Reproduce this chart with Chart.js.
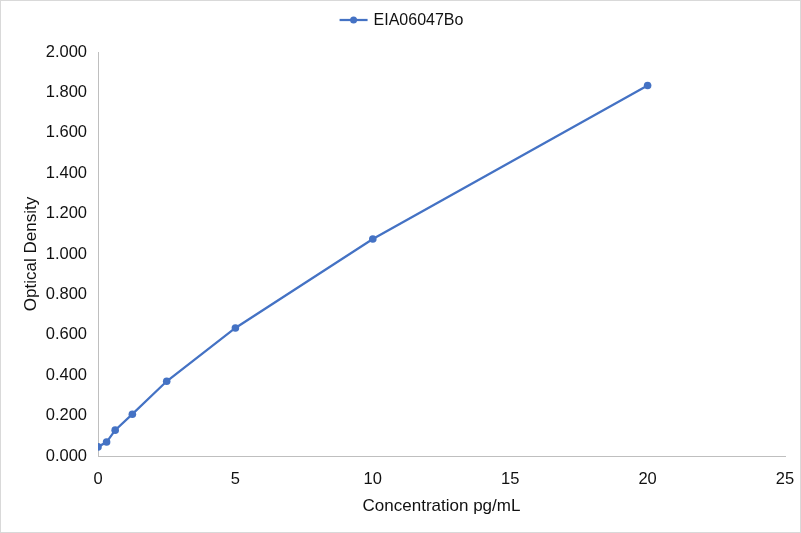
<!DOCTYPE html>
<html><head><meta charset="utf-8">
<script src="https://cdn.jsdelivr.net/npm/chart.js@4"></script>
<style>html,body{margin:0;padding:0;background:#fff}canvas{display:block}</style>
</head><body>
<canvas id="c" width="801" height="533"></canvas>
<script>
const seriesName = 'EIA06047Bo';
const concentrations = [0, 0.3125, 0.625, 1.25, 2.5, 5, 10, 20];
const odValues = [0.045, 0.069, 0.128, 0.207, 0.370, 0.634, 1.074, 1.834];
const xTitle = 'Concentration pg/mL';
const yTitle = 'Optical Density';

const FONT = 'Liberation Sans, Arial, sans-serif';
const COLOR = '#4472C4';
const TXT = '#111111';

const pts = concentrations.map((x, i) => ({x, y: odValues[i]}));

const extras = {
  id: 'extras',
  afterDraw(chart) {
    const ctx = chart.ctx;
    ctx.save();
    ctx.strokeStyle = '#d9d9d9';
    ctx.lineWidth = 1;
    ctx.strokeRect(0.5, 0.5, chart.width - 1, chart.height - 1);
    // legend
    const label = chart.data.datasets[0].label;
    ctx.font = '16px ' + FONT;
    const tw = ctx.measureText(label).width;
    const total = 28 + 6 + tw;
    const x0 = chart.width / 2 - total / 2 + 1;
    const y0 = 20;
    ctx.strokeStyle = COLOR; ctx.lineWidth = 2.25;
    ctx.beginPath(); ctx.moveTo(x0, y0); ctx.lineTo(x0 + 28, y0); ctx.stroke();
    ctx.fillStyle = COLOR;
    ctx.beginPath(); ctx.arc(x0 + 14, y0, 3.5, 0, Math.PI * 2); ctx.fill();
    ctx.fillStyle = TXT; ctx.textBaseline = 'middle'; ctx.textAlign = 'left';
    ctx.fillText(label, x0 + 34, y0 + 1);
    ctx.restore();
  }
};

new Chart(document.getElementById('c'), {
  type: 'scatter',
  data: {
    datasets: [{
      label: seriesName,
      data: pts,
      showLine: true,
      borderColor: COLOR,
      backgroundColor: COLOR,
      borderWidth: 2.25,
      pointRadius: 3.8,
      pointBorderWidth: 0,
      pointHoverRadius: 3.8,
      tension: 0
    }]
  },
  options: {
    responsive: false,
    animation: false,
    devicePixelRatio: 1,
    layout: { padding: { top: 52, right: 16, left: 21, bottom: 16 } },
    plugins: { legend: { display: false }, tooltip: { enabled: false } },
    scales: {
      x: {
        type: 'linear', min: 0, max: 25,
        ticks: { stepSize: 5, color: TXT, font: { family: FONT, size: 16.5 }, padding: 6, maxRotation: 0 },
        grid: { display: false },
        border: { color: '#bfbfbf', width: 1 },
        title: { display: true, text: xTitle, color: TXT, font: { family: FONT, size: 17 }, padding: { top: 8, bottom: 0 } },
        afterFit(s) { s.height = 61; }
      },
      y: {
        min: 0, max: 2,
        ticks: { stepSize: 0.2, color: TXT, font: { family: FONT, size: 16.5 }, padding: 3,
          callback: v => Number(v).toFixed(3) },
        grid: { display: false },
        border: { color: '#bfbfbf', width: 1 },
        title: { display: true, text: yTitle, color: TXT, font: { family: FONT, size: 17 }, padding: { top: 0, bottom: 0 } },
        afterFit(s) { s.width = 77; }
      }
    }
  },
  plugins: [extras]
});
</script>
</body></html>
